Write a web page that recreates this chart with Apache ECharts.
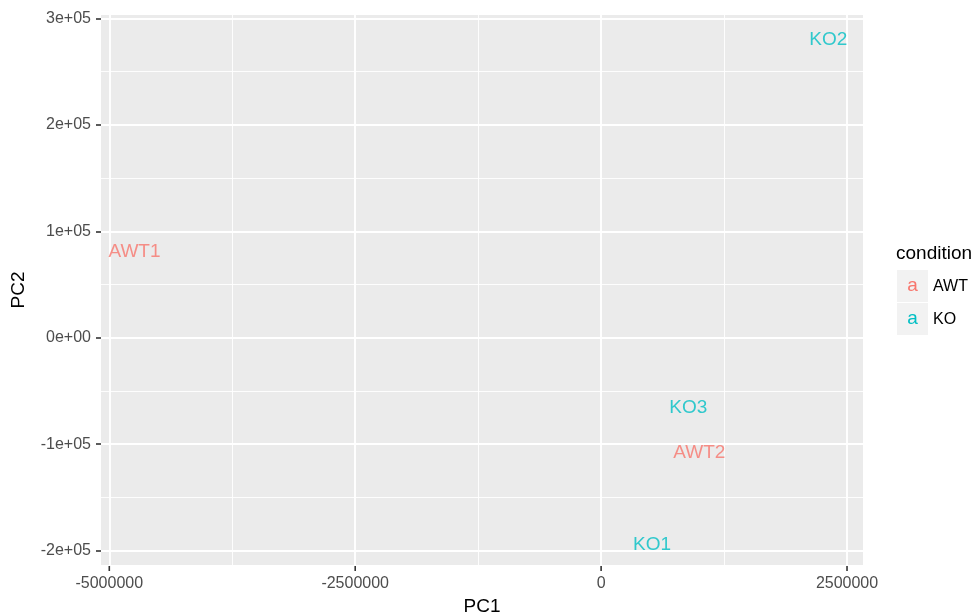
<!DOCTYPE html>
<html>
<head>
<meta charset="utf-8">
<script src="https://cdn.jsdelivr.net/npm/echarts@6/dist/echarts.min.js"></script>
<style>html,body{margin:0;padding:0;background:#fff}#c{width:979px;height:616px}</style>
</head>
<body>
<div id="c"></div>
<script>
// ---- data ----
const awtNames = ['AWT1', 'AWT2'];
const awtPC1 = [-4744000, 998000];
const awtPC2 = [82100, -107100];
const koNames = ['KO1', 'KO2', 'KO3'];
const koPC1 = [518000, 2310000, 887000];
const koPC2 = [-193200, 280500, -64900];

const xTickValues = [-5000000, -2500000, 0, 2500000];
const xTickLabels = ['-5000000', '-2500000', '0', '2500000'];
const xMinorValues = [-3750000, -1250000, 1250000];
const yTickValues = [-200000, -100000, 0, 100000, 200000, 300000];
const yTickLabels = ['-2e+05', '-1e+05', '0e+00', '1e+05', '2e+05', '3e+05'];
const yMinorValues = [-150000, -50000, 50000, 150000, 250000];

const xRange = [-5084300, 2662400];
const yRange = [-213400, 303100];

const colAWT = '#F8766D';
const colKO = '#00BFC4';
const FONT = '"Liberation Sans", Arial, Helvetica, sans-serif';

function pts(names, xs, ys) {
  return names.map((n, i) => ({ name: n, value: [xs[i], ys[i]] }));
}
function lab(values, labels) {
  return v => { const i = values.indexOf(v); return i >= 0 ? labels[i] : ''; };
}

const gridLines = [];
xTickValues.forEach(v => gridLines.push({ xAxis: v, lineStyle: { width: 1.9 } }));
xMinorValues.forEach(v => gridLines.push({ xAxis: v, lineStyle: { width: 0.9 } }));
yTickValues.forEach(v => gridLines.push({ yAxis: v, lineStyle: { width: 1.9 } }));
yMinorValues.forEach(v => gridLines.push({ yAxis: v, lineStyle: { width: 0.9 } }));

const chart = echarts.init(document.getElementById('c'), null, { renderer: 'canvas' });
const textLabel = color => ({
  show: true, position: 'inside', offset: [0, 1], formatter: p => p.name,
  color: color, fontSize: 19, fontFamily: FONT
});

chart.setOption({
  animation: false,
  backgroundColor: '#ffffff',
  grid: {
    left: 101, right: 116, top: 15, bottom: 51,
    outerBoundsMode: 'none', containLabel: false,
    show: true, backgroundColor: '#EBEBEB', borderWidth: 0
  },
  xAxis: {
    type: 'value', position: 'bottom', min: xRange[0], max: xRange[1],
    name: 'PC1', nameLocation: 'middle', nameGap: 32, nameMoveOverlap: false,
    nameTextStyle: { color: '#000', fontSize: 19, fontFamily: FONT },
    axisLine: { show: true, onZero: false, lineStyle: { color: 'rgba(0,0,0,0)' } },
    axisTick: { show: false },
    axisLabel: { customValues: xTickValues, formatter: lab(xTickValues, xTickLabels), color: '#4D4D4D', fontSize: 16, fontFamily: FONT, margin: 11 },
    splitLine: { show: false }
  },
  yAxis: {
    type: 'value', min: yRange[0], max: yRange[1],
    name: 'PC2', nameLocation: 'middle', nameGap: 73, nameRotate: 90, nameMoveOverlap: false,
    nameTextStyle: { color: '#000', fontSize: 19, fontFamily: FONT },
    axisLine: { show: true, onZero: false, lineStyle: { color: 'rgba(0,0,0,0)' } },
    axisTick: { show: true, inside: false, length: 5, customValues: yTickValues, lineStyle: { color: '#333333', width: 1.6 } },
    axisLabel: { customValues: yTickValues, formatter: lab(yTickValues, yTickLabels), color: '#4D4D4D', fontSize: 16, fontFamily: FONT, margin: 10 },
    splitLine: { show: false }
  },
  series: [
    {
      type: 'scatter', name: 'gridlines', data: [], z: 1, silent: true,
      markLine: {
        silent: true, symbol: ['none', 'none'], label: { show: false },
        lineStyle: { color: '#ffffff', type: 'solid' },
        emphasis: { disabled: true },
        data: gridLines
      }
    },
    {
      type: 'scatter', name: 'AWT', z: 5, symbolSize: 4,
      itemStyle: { color: 'transparent' },
      label: textLabel(colAWT),
      data: pts(awtNames, awtPC1, awtPC2)
    },
    {
      type: 'scatter', name: 'KO', z: 5, symbolSize: 4,
      itemStyle: { color: 'transparent' },
      label: textLabel(colKO),
      data: pts(koNames, koPC1, koPC2)
    }
  ]
});

const legendGraphics = [
  { type: 'text', id: 'lgTitle', left: 896, top: 244, style: { text: 'condition', fill: '#000', font: '19px ' + FONT } },
  { type: 'rect', id: 'lgKey1', shape: { x: 897, y: 270, width: 31, height: 32 }, style: { fill: '#F2F2F2' } },
  { type: 'rect', id: 'lgKey2', shape: { x: 897, y: 303, width: 31, height: 32 }, style: { fill: '#F2F2F2' } },
  { type: 'text', id: 'lgA1', x: 912.5, y: 286, style: { text: 'a', fill: colAWT, font: '19px ' + FONT, align: 'center', verticalAlign: 'middle' } },
  { type: 'text', id: 'lgA2', x: 912.5, y: 319, style: { text: 'a', fill: colKO, font: '19px ' + FONT, align: 'center', verticalAlign: 'middle' } },
  { type: 'text', id: 'lgT1', x: 933, y: 287, style: { text: 'AWT', fill: '#000', font: '16px ' + FONT, verticalAlign: 'middle' } },
  { type: 'text', id: 'lgT2', x: 933, y: 320, style: { text: 'KO', fill: '#000', font: '16px ' + FONT, verticalAlign: 'middle' } }
];
// x-axis tick marks, positioned through the axis scale (drawn as filled rects)
const xTickBase = chart.convertToPixel({ yAxisIndex: 0 }, yRange[0]);
const tickGraphics = xTickValues.map((v, i) => {
  const px = chart.convertToPixel({ xAxisIndex: 0 }, v);
  return {
    type: 'rect', id: 'xtick' + i, z: 100,
    shape: { x: px - 0.8, y: xTickBase + 1, width: 1.6, height: 5 },
    style: { fill: '#333333' }
  };
});
chart.setOption({ graphic: legendGraphics.concat(tickGraphics) }, { replaceMerge: ['graphic'] });
</script>
</body>
</html>
